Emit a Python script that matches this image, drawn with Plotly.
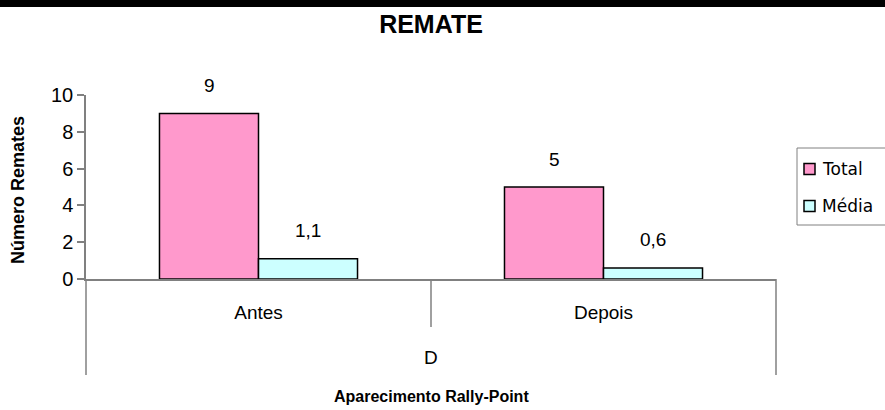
import plotly.graph_objects as go

# data
categorias = ["Antes", "Depois"]
grupo = "D"
total = [9, 5]
media = [1.1, 0.6]
series = ["Total", "Média"]
y_ticks = [0, 2, 4, 6, 8, 10]

COR_TOTAL = "#FF99CC"
COR_MEDIA = "#CCFFFF"
CINZA = "#808080"
ARIAL = "Liberation Sans, Arial, sans-serif"
GOTHIC = "Liberation Sans Narrow, Liberation Sans, sans-serif"
LEGENDA = "DejaVu Sans, sans-serif"

# area do grafico em pixels (para converter posicoes fixas em coords paper)
L, R, T, B = 86, 776, 95, 279


def px(xp):
    return (xp - L) / (R - L)


def py(yp):
    return (B - yp) / (B - T)


def fmt(v):
    # virgula decimal, como no original
    if float(v).is_integer():
        return str(int(v))
    return f"{v:.1f}".replace(".", ",")


fig = go.Figure()

cores = [COR_TOTAL, COR_MEDIA]
for nome, vals, cor in zip(series, (total, media), cores):
    fig.add_trace(
        go.Bar(
            x=categorias,
            y=vals,
            name=nome,
            marker=dict(color=cor, line=dict(color="black", width=1.5)),
            showlegend=False,
        )
    )

# rotulos de dados
anots = []
for vals, dx in ((total, -49.5), (media, 49.5)):
    for cat, v in zip(categorias, vals):
        anots.append(
            dict(
                x=cat, y=v, xref="x", yref="y",
                text=fmt(v), showarrow=False,
                xshift=dx, yshift=28, yanchor="middle",
                font=dict(family=ARIAL, size=19, color="black"),
            )
        )

# categoria externa, titulos dos eixos
anots.append(
    dict(
        x=0.5, y=py(357), xref="paper", yref="paper",
        text=grupo, showarrow=False, yanchor="middle",
        font=dict(family=ARIAL, size=19, color="black"),
    )
)
anots.append(
    dict(
        x=0.5, y=py(396), xref="paper", yref="paper",
        text="<b>Aparecimento Rally-Point</b>", showarrow=False, yanchor="middle",
        font=dict(family=ARIAL, size=16, color="black"),
    )
)
anots.append(
    dict(
        x=px(18), y=py(190), xref="paper", yref="paper",
        text="<b>Número Remates</b>", showarrow=False, textangle=-90,
        xanchor="center", yanchor="middle",
        font=dict(family=ARIAL, size=18, color="black"),
    )
)

linha = dict(color=CINZA, width=1.5)
shapes = [
    # faixa preta no topo
    dict(type="rect", xref="paper", yref="paper",
         x0=px(-20), x1=px(905), y0=py(7), y1=py(-10),
         fillcolor="black", line=dict(width=0)),
    # divisores do eixo multicategoria
    dict(type="line", xref="paper", yref="paper",
         x0=0, x1=0, y0=0, y1=py(375), line=linha),
    dict(type="line", xref="x", yref="paper",
         x0=0.5, x1=0.5, y0=0, y1=py(327), line=linha),
    dict(type="line", xref="paper", yref="paper",
         x0=1, x1=1, y0=0, y1=py(375), line=linha),
    # legenda: caixa aberta a direita (cortada na borda, como no original)
    dict(type="line", xref="paper", yref="paper",
         x0=px(797), x1=px(900), y0=py(148), y1=py(148),
         line=dict(color=CINZA, width=1)),
    dict(type="line", xref="paper", yref="paper",
         x0=px(797), x1=px(900), y0=py(225), y1=py(225),
         line=dict(color=CINZA, width=1)),
    dict(type="line", xref="paper", yref="paper",
         x0=px(797), x1=px(797), y0=py(148), y1=py(225),
         line=dict(color=CINZA, width=1)),
]

# itens da legenda
for nome, cor, yc in zip(series, cores, (169, 206)):
    shapes.append(
        dict(type="rect", xref="paper", yref="paper",
             x0=px(804), x1=px(815), y0=py(yc + 5.5), y1=py(yc - 5.5),
             fillcolor=cor, line=dict(color="black", width=1.5))
    )
    anots.append(
        dict(
            x=px(820), y=py(yc), xref="paper", yref="paper",
            text=nome, showarrow=False, xanchor="left", yanchor="middle",
            font=dict(family=LEGENDA, size=17, color="black"),
        )
    )

fig.update_layout(
    width=885,
    height=410,
    margin=dict(l=L, r=885 - R, t=T, b=410 - B, autoexpand=False),
    paper_bgcolor="white",
    plot_bgcolor="white",
    barmode="group",
    bargap=0.426,
    bargroupgap=0,
    showlegend=False,
    title=dict(
        text="<b>REMATE</b>",
        x=0.5, xref="paper", xanchor="center",
        y=1 - 24 / 410, yanchor="middle",
        font=dict(family=GOTHIC, size=25, color="black"),
    ),
    annotations=anots,
    shapes=shapes,
)

fig.update_xaxes(
    type="category",
    showline=True,
    linecolor=CINZA,
    linewidth=1.5,
    ticks="",
    showgrid=False,
    ticklabelstandoff=15,
    tickfont=dict(family=ARIAL, size=19, color="black"),
)

fig.update_yaxes(
    range=[0, 10],
    tickvals=y_ticks,
    showline=True,
    linecolor=CINZA,
    linewidth=1.5,
    ticks="outside",
    ticklen=7,
    tickcolor=CINZA,
    tickwidth=1.5,
    showgrid=False,
    zeroline=False,
    tickfont=dict(family=ARIAL, size=20, color="black"),
)

# a pagina padrao tem margem de 8px no body; zerar para alinhar em (0,0)
fig.write_html(
    "out.html",
    config={"displayModeBar": False},
    post_script="document.body.style.margin='0';document.body.style.overflow='hidden';",
)
